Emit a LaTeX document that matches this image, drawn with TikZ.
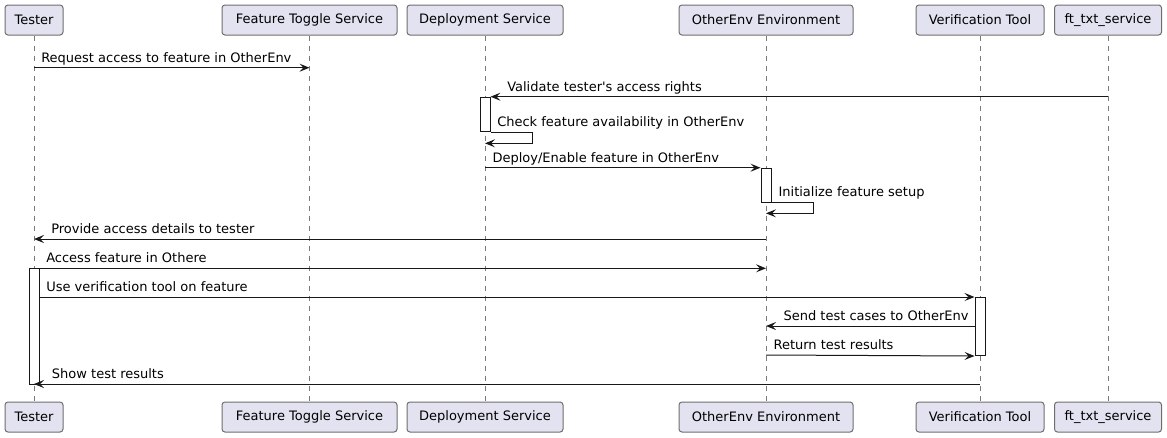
\documentclass[tikz,border=0pt]{standalone}
\usepackage{fontspec}
\setmainfont{DejaVu Sans}
\usetikzlibrary{arrows.meta}
\definecolor{partfill}{HTML}{E2E2F0}
\definecolor{partborder}{HTML}{6E6E6E}
\definecolor{lifegray}{HTML}{7A7A7A}
\definecolor{umlline}{HTML}{181818}
\newcommand{\umlfont}{\fontsize{9.75pt}{11pt}\selectfont}
\tikzset{
    participant/.style={draw=partborder, line width=0.75pt, fill=partfill, rounded corners=2.2pt,
        minimum height=22.5pt, inner sep=0pt, font=\umlfont},
    lifeline/.style={draw=lifegray, line width=0.6pt, dash pattern=on 3.75pt off 3.75pt},
    act/.style={draw=umlline, line width=0.75pt, fill=white, minimum width=7.5pt,
        inner sep=0pt, anchor=north},
    msg/.style={draw=umlline, line width=0.75pt, -{Stealth[length=7.5pt, width=6pt, inset=3pt]}},
    msglabel/.style={anchor=base west, inner sep=0pt, font=\umlfont},
}
\begin{document}
\begin{tikzpicture}[x=0.75pt, y=-0.75pt]
    \useasboundingbox (0,0) rectangle (1167,437);
    % participants, top and bottom, with their lifelines
    \foreach \p/\x/\w/\txt in {tester/34/58/Tester, fts/309.5/175/Feature Toggle Service,
        ds/485/156/Deployment Service, oe/766/174/OtherEnv Environment,
        vt/980/128/Verification Tool, ftx/1108/107/ft\_txt\_service} {
        \node[participant, minimum width=\w*0.75pt] (\p T) at (\x,20) {\txt};
        \node[participant, minimum width=\w*0.75pt] (\p B) at (\x,417) {\txt};
        \draw[lifeline] (\p T) -- (\p B);
    }
    % activations
    \node[act, minimum height=34.3*0.75pt]  (dsact)     at (dsT |- 0,96.7) {};
    \node[act, minimum height=34*0.75pt]    (oeact)     at (oeT |- 0,167.7) {};
    \node[act, minimum height=115.7*0.75pt] (testeract) at (testerT |- 0,268.3) {};
    \node[act, minimum height=58*0.75pt]    (vtact)     at (vtT |- 0,297) {};
    % messages
    \draw[msg] (testerT |- 0,67.7) -- (ftsT |- 0,67.7);
    \node[msglabel] (m1) at (41,62.2) {Request access to feature in OtherEnv};
    \draw[msg] (ftxT |- 0,96.7) -- (dsact.north east);
    \node[msglabel] (m2) at (507,91.2) {Validate tester\textquotesingle s access rights};
    \draw[msg] (dsact.south east) -- ++(42.4,0) |- (dsT |- 0,143.3);
    \node[msglabel] (m3) at (497,126) {Check feature availability in OtherEnv};
    \draw[msg] (dsT |- 0,167.7) -- (oeact.north west);
    \node[msglabel] (m4) at (492.3,162.2) {Deploy/Enable feature in OtherEnv};
    \draw[msg] (oeact.south east) -- ++(41.6,0) |- (oeT |- 0,213.3);
    \node[msglabel] (m5) at (778.3,196.5) {Initialize feature setup};
    \draw[msg] (oeT |- 0,239) -- (testerT |- 0,239);
    \node[msglabel] (m6) at (51,233.5) {Provide access details to tester};
    \draw[msg] (testeract.north east) -- (oeT |- 0,268.3);
    \node[msglabel] (m7) at (46,262.8) {Access feature in Othere};
    \draw[msg] (testeract.east |- 0,297) -- (vtact.north west);
    \node[msglabel] (m8) at (46,291.5) {Use verification tool on feature};
    \draw[msg] (vtact.west |- 0,326) -- (oeT |- 0,326);
    \node[msglabel] (m9) at (783.3,320.5) {Send test cases to OtherEnv};
    \draw[msg] (oeT |- 0,355) -- (vtact.south west);
    \node[msglabel] (m10) at (773.3,349.5) {Return test results};
    \draw[msg] (vtT |- 0,384) -- (testerT |- 0,384);
    \node[msglabel] (m11) at (51.7,378.5) {Show test results};
\end{tikzpicture}
\end{document}
